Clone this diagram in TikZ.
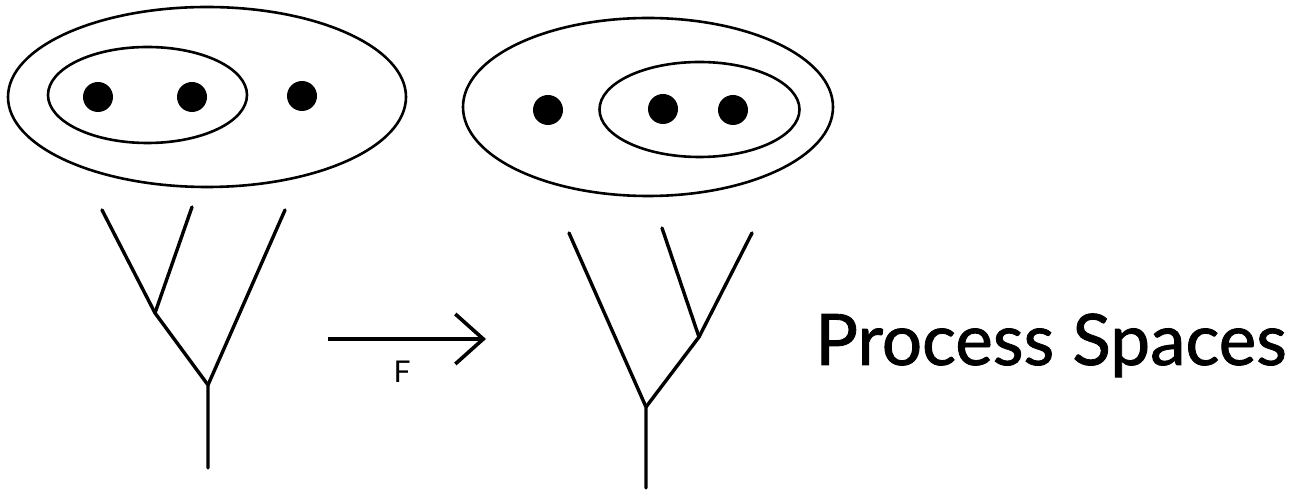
\documentclass[tikz,border=0pt]{standalone}
\usepackage{fontspec}
\newfontfamily\labelfont{Lato}
\newfontfamily\titlefont[FakeBold=1.2]{Lato}
\usetikzlibrary{shapes.geometric,arrows.meta}
\tikzset{
  set/.style={draw=black, line width=1.3pt, ellipse, inner sep=0pt, fill=none},
  pt/.style={circle, fill=black, inner sep=0pt, minimum size=15pt},
  branch/.style={line width=1.7pt, line cap=round},
  map/.style={line width=2pt, -{Straight Barb[length=14pt,width=25pt,line width=1.8pt]}}
}
\begin{document}
\begin{tikzpicture}[x=0.5pt,y=-0.5pt]
\useasboundingbox (0,0) rectangle (1301,491);
% left sets
\node[set, minimum width=199pt, minimum height=90pt] (L) at (207,97) {};
\node[set, minimum width=99.5pt, minimum height=48pt] (Li) at (147.5,95) {};
\node[pt] (l1) at (98,97) {};
\node[pt] (l2) at (192,97) {};
\node[pt] (l3) at (302,96) {};
% right sets
\node[set, minimum width=185pt, minimum height=89pt] (R) at (648,107) {};
\node[set, minimum width=100pt, minimum height=47.5pt] (Ri) at (699.5,109.5) {};
\node[pt] (r1) at (548,110) {};
\node[pt] (r2) at (663,109) {};
\node[pt] (r3) at (733,110) {};
% left tree
\coordinate (a1) at (102,210);
\coordinate (a2) at (192,207);
\coordinate (a3) at (285,210);
\coordinate (aj1) at (155,313);
\coordinate (aj2) at (208,385);
\coordinate (ar) at (208,468);
\draw[branch] (a1) -- (aj1) -- (aj2) -- (ar);
\draw[branch] (a2) -- (aj1);
\draw[branch] (a3) -- (aj2);
% right tree
\coordinate (b1) at (569,233);
\coordinate (b2) at (662,228);
\coordinate (b3) at (752,233);
\coordinate (bj1) at (699,337);
\coordinate (bj2) at (646,407);
\coordinate (br) at (646,488);
\draw[branch] (b1) -- (bj2) -- (br);
\draw[branch] (b2) -- (bj1);
\draw[branch] (b3) -- (bj1) -- (bj2);
% map arrow
\coordinate (fs) at (328,339);
\coordinate (fe) at (486,339);
\draw[map] (fs) -- (fe);
\node[font=\labelfont\fontsize{15pt}{17pt}\selectfont, inner sep=0pt] (F) at (402,372) {F};
% title
\node[font=\titlefont\fontsize{35.5pt}{40pt}\selectfont, anchor=base west, inner sep=0pt] (title) at (815,365) {Process Spaces};
\end{tikzpicture}
\end{document}
